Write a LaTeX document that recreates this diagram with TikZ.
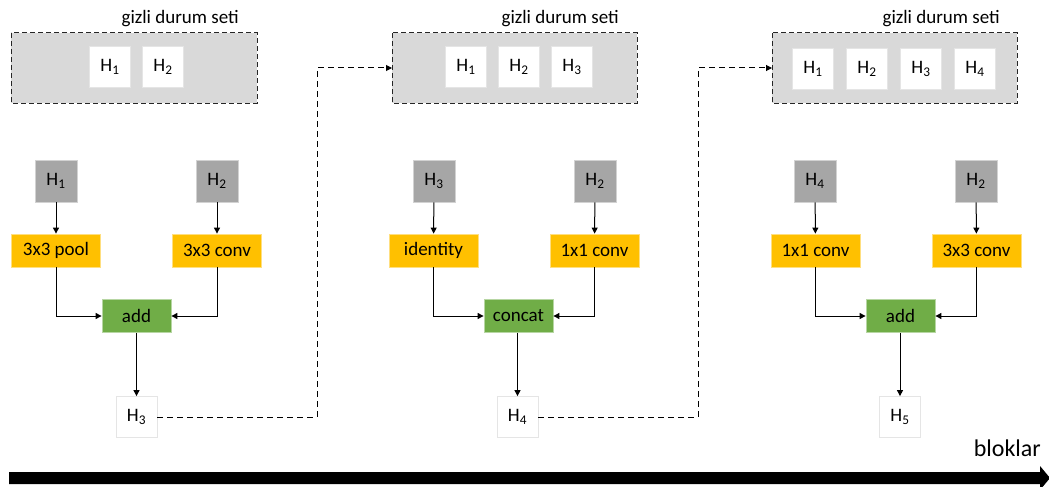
\documentclass[tikz,border=0pt]{standalone}
\usepackage{fontspec}
\setmainfont{Carlito}
\usetikzlibrary{arrows.meta}
\definecolor{setgray}{HTML}{D9D9D9}
\definecolor{ingray}{HTML}{A6A6A6}
\definecolor{opyellow}{HTML}{FFC000}
\definecolor{mergegreen}{HTML}{70AD47}
\tikzset{
  every node/.style={font=\fontsize{19}{22}\selectfont, inner sep=0pt},
  setbox/.style={draw=black!85, fill=setgray, dashed, dash pattern=on 5pt off 3pt, line width=1pt},
  statebox/.style={fill=white, draw=black!10, line width=0.8pt, minimum width=41pt, minimum height=41pt},
  inbox/.style={fill=ingray, draw=ingray!50!white, line width=0.8pt, minimum width=42pt, minimum height=42pt},
  opbox/.style={fill=opyellow, draw=opyellow!50!white, line width=0.8pt, minimum width=89pt, minimum height=33pt},
  mergebox/.style={fill=mergegreen, draw=mergegreen!50!white, line width=0.8pt, minimum width=69pt, minimum height=33pt},
  flow/.style={draw=black, line width=1pt, -{Triangle[length=6pt,width=6pt]}},
  carry/.style={flow, dash pattern=on 6pt off 4pt},
  settitle/.style={anchor=base east}
}
\newcommand{\Hs}[1]{H\textsubscript{#1}}
\begin{document}
\begin{tikzpicture}[x=1pt,y=-1pt]
\useasboundingbox (0,0) rectangle (1049,487);

% ---- hidden state sets ----
\draw[setbox] (11,33) rectangle (257,103);
\coordinate (set1w) at (11,68);
\node[settitle] (t1) at (239,24) {gizli durum seti};
\node[statebox] (s1a) at (110,67) {\Hs{1}};
\node[statebox] (s1b) at (163,67) {\Hs{2}};

\draw[setbox] (392,33) rectangle (637,103);
\coordinate (set2w) at (392,68);
\node[settitle] (t2) at (619,24) {gizli durum seti};
\node[statebox] (s2a) at (466,67) {\Hs{1}};
\node[statebox] (s2b) at (519,67) {\Hs{2}};
\node[statebox] (s2c) at (572,67) {\Hs{3}};

\draw[setbox] (772,33) rectangle (1017,103);
\coordinate (set3w) at (772,68);
\node[settitle] (t3) at (1000,24) {gizli durum seti};
\node[statebox] (s3a) at (813,69) {\Hs{1}};
\node[statebox] (s3b) at (867,69) {\Hs{2}};
\node[statebox] (s3c) at (921,69) {\Hs{3}};
\node[statebox] (s3d) at (975,69) {\Hs{4}};

% ---- block 1 ----
\node[inbox] (a1) at (56,181) {\Hs{1}};
\node[inbox] (b1) at (217,181) {\Hs{2}};
\node[opbox] (oa1) at (56,250.5) {3x3 pool};
\node[opbox] (ob1) at (217,250.5) {3x3 conv};
\node[mergebox] (m1) at (136.5,316) {add};
\node[statebox] (o1) at (136.5,417) {\Hs{3}};
\draw[flow] (a1) -- (oa1);
\draw[flow] (b1) -- (ob1);
\draw[flow] (oa1.south) |- (m1.west);
\draw[flow] (ob1.south) |- (m1.east);
\draw[flow] (m1) -- (o1);

% ---- block 2 ----
\node[inbox] (a2) at (434,181) {\Hs{3}};
\node[inbox] (b2) at (595,181) {\Hs{2}};
\node[opbox] (oa2) at (433.5,250.5) {identity};
\node[opbox] (ob2) at (594.5,250.5) {1x1 conv};
\node[mergebox] (m2) at (518.5,316) {concat};
\node[statebox] (o2) at (517.5,417) {\Hs{4}};
\draw[flow] (a2) -- (oa2);
\draw[flow] (b2) -- (ob2);
\draw[flow] (oa2.south) |- (m2.west);
\draw[flow] (ob2.south) |- (m2.east);
\draw[flow] (m2.south -| o2) -- (o2);

% ---- block 3 ----
\node[inbox] (a3) at (815,181) {\Hs{4}};
\node[inbox] (b3) at (976,181) {\Hs{2}};
\node[opbox] (oa3) at (815.5,250.5) {1x1 conv};
\node[opbox] (ob3) at (976.5,250.5) {3x3 conv};
\node[mergebox] (m3) at (900.5,316) {add};
\node[statebox] (o3) at (900,417) {\Hs{5}};
\draw[flow] (a3) -- (oa3);
\draw[flow] (b3) -- (ob3);
\draw[flow] (oa3.south) |- (m3.west);
\draw[flow] (ob3.south) |- (m3.east);
\draw[flow] (m3.south -| o3) -- (o3);

% ---- carried states ----
\draw[carry] (o1.east) -- (317,417) -- (317,68) -- (set2w);
\draw[carry] (o2.east) -- (698,417) -- (698,68) -- (set3w);

% ---- blocks axis ----
\node[anchor=base east, font=\fontsize{24}{28}\selectfont] (ax) at (1041,456) {bloklar};
\fill[black] (9,472) -- (1040,472) -- (1040,466) -- (1050,478) -- (1040,490)
  -- (1040,484) -- (9,484) -- cycle;
\end{tikzpicture}
\end{document}
